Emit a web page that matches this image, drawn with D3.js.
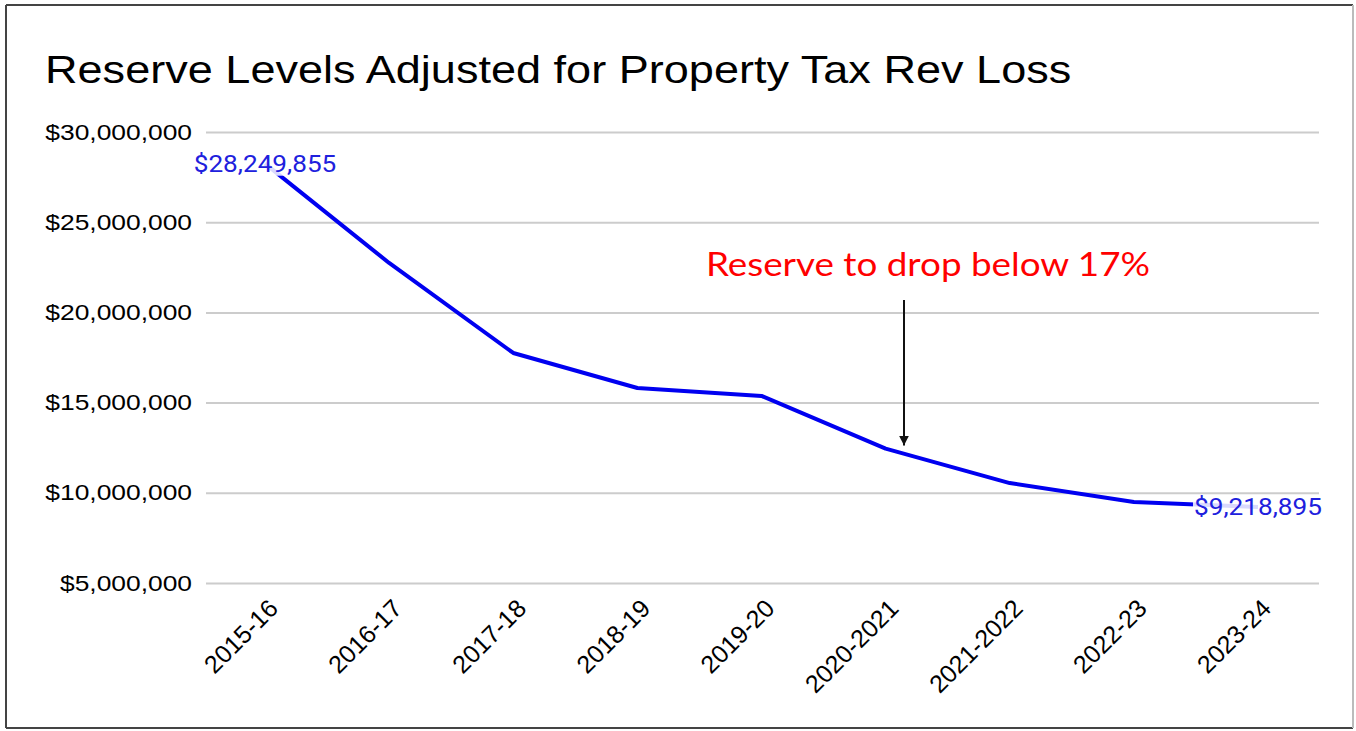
<!DOCTYPE html>
<html>
<head>
<meta charset="utf-8">
<script src="https://cdn.jsdelivr.net/npm/d3@7"></script>
<style>
  body { margin: 0; background: #fff; }
  svg { display: block; }
</style>
</head>
<body>
<div id="chart"></div>
<script>
const years = ['2015-16', '2016-17', '2017-18', '2018-19', '2019-20',
               '2020-2021', '2021-2022', '2022-23', '2023-24'];
const reserves = [28249855, 22740000, 17750000, 15810000, 15370000,
                  12450000, 10540000, 9490000, 9218895];
const yTicks = [5000000, 10000000, 15000000, 20000000, 25000000, 30000000];
const labeled = [0, 8];
const title = 'Reserve Levels Adjusted for Property Tax Rev Loss';
const note = 'Reserve to drop below 17%';
const noteAt = '2020-2021';

const width = 1356, height = 731;
const fmt = d3.format('$,');

const svg = d3.select('#chart').append('svg')
  .attr('width', width)
  .attr('height', height);

// frame
svg.append('line').attr('x1', 6).attr('y1', 5).attr('x2', 1353).attr('y2', 5)
  .attr('stroke', '#444').attr('stroke-width', 2);
svg.append('line').attr('x1', 6).attr('y1', 5).attr('x2', 6).attr('y2', 728)
  .attr('stroke', '#444').attr('stroke-width', 2);
svg.append('line').attr('x1', 6).attr('y1', 728).attr('x2', 1353).attr('y2', 728)
  .attr('stroke', '#444').attr('stroke-width', 2);
svg.append('line').attr('x1', 1353).attr('y1', 5).attr('x2', 1353).attr('y2', 728)
  .attr('stroke', '#bbb').attr('stroke-width', 2);

const x = d3.scalePoint()
  .domain(years)
  .range([265, 1258]);

const y = d3.scaleLinear()
  .domain([5000000, 30000000])
  .range([583, 132]);

svg.append('text')
  .attr('transform', 'translate(45,83) scale(1.156,1)')
  .attr('font-family', 'Liberation Sans, Arial, sans-serif')
  .attr('font-size', 39)
  .attr('fill', '#000')
  .text(title);

const yAxis = d3.axisLeft(y)
  .tickValues(yTicks)
  .tickSize(-(1319 - 206))
  .tickPadding(14)
  .tickFormat(fmt);

svg.append('g')
  .attr('transform', 'translate(206,0)')
  .call(yAxis)
  .call(g => g.select('.domain').remove())
  .call(g => g.selectAll('line').attr('stroke', '#cccccc').attr('stroke-width', 2))
  .call(g => g.selectAll('text')
    .attr('font-family', 'Liberation Sans, Arial, sans-serif')
    .attr('font-size', 22)
    .attr('fill', '#000')
    .attr('x', -14 / 1.2)
    .attr('transform', 'scale(1.2,1)'));

const xAxis = d3.axisBottom(x).tickSize(0).tickPadding(0);

svg.append('g')
  .attr('transform', 'translate(0,583)')
  .call(xAxis)
  .call(g => g.select('.domain').remove())
  .call(g => g.selectAll('text')
    .attr('font-family', 'Liberation Sans, Arial, sans-serif')
    .attr('font-size', 25)
    .attr('fill', '#000')
    .attr('text-anchor', 'end')
    .attr('dy', null)
    .attr('y', 0)
    .attr('transform', 'translate(14,27) rotate(-45)'));

const line = d3.line()
  .x((d, i) => x(years[i]))
  .y(d => y(d));

svg.append('path')
  .datum(reserves)
  .attr('fill', 'none')
  .attr('stroke', '#0000f0')
  .attr('stroke-width', 4)
  .attr('stroke-linejoin', 'round')
  .attr('d', line);

const labels = svg.append('g')
  .selectAll('g')
  .data(labeled)
  .join('g')
  .attr('transform', i => 'translate(' + x(years[i]) + ',' + y(reserves[i]) + ')');

labels.append('text')
  .attr('text-anchor', 'middle')
  .attr('dy', '0.35em')
  .attr('transform', 'scale(1.09,1)')
  .attr('font-family', 'Roboto, Liberation Sans, sans-serif')
  .attr('font-size', 24)
  .attr('fill', '#2020dd')
  .text(i => fmt(reserves[i]))
  .each(function () {
    const b = this.getBBox();
    d3.select(this.parentNode).insert('rect', 'text')
      .attr('x', (b.x - 1) * 1.09).attr('y', b.y + 2)
      .attr('width', (b.width + 2) * 1.09).attr('height', b.height - 4)
      .attr('fill', '#fff')
      .attr('opacity', 0.85);
  });

svg.append('text')
  .attr('transform', 'translate(928,276) scale(1.116,1)')
  .attr('text-anchor', 'middle')
  .attr('font-family', 'Lato, sans-serif')
  .attr('font-size', 33)
  .attr('fill', '#ff0000')
  .text(note);

svg.append('defs').append('marker')
  .attr('id', 'arrow')
  .attr('viewBox', '0 0 10 10')
  .attr('refX', 10).attr('refY', 5)
  .attr('markerWidth', 5).attr('markerHeight', 5)
  .attr('orient', 'auto')
  .append('path')
  .attr('d', 'M0,0L10,5L0,10z')
  .attr('fill', '#111');

svg.append('line')
  .attr('x1', 904).attr('y1', 300)
  .attr('x2', 904).attr('y2', y(reserves[years.indexOf(noteAt)]) - 3)
  .attr('stroke', '#111')
  .attr('stroke-width', 2)
  .attr('marker-end', 'url(#arrow)');
</script>
</body>
</html>
